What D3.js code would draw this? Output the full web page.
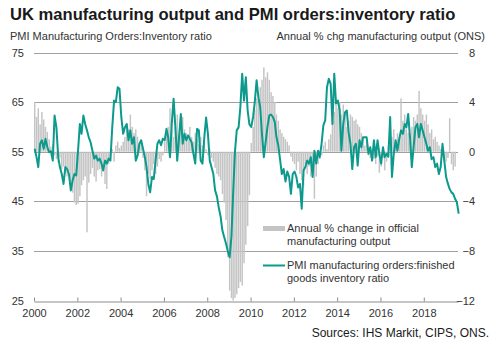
<!DOCTYPE html>
<html><head><meta charset="utf-8">
<script src="https://cdn.jsdelivr.net/npm/d3@7"></script>
<style>
body{margin:0;background:#fff;}
svg{display:block;font-family:"Liberation Sans",Arial,sans-serif;}
</style>
</head><body>
<svg id="c" width="498" height="349"></svg>
<script>
// ---- DATA (monthly from Jan 2000) ----
const startYear = 2000;
const pmiRatio = [
 55.6,53.9,51.9,56.6,57.3,55.6,57.6,55.9,54.9,55.1,53.2,62.3,
 59.9,53.9,51.9,50.5,48.5,51.9,51.5,50.5,47.2,49.2,50.5,50.2,
 55.2,60.6,58.6,62.3,60.6,59.3,57.9,56.9,55.2,53.6,54.2,53.2,
 53.6,52.6,51.2,53.2,52.6,53.6,53.2,59.9,65.3,65.0,68.0,67.7,
 62.0,58.6,59.9,60.6,57.3,59.3,56.6,57.9,53.2,54.2,56.6,57.3,
 55.6,53.9,51.9,48.5,46.8,49.9,49.5,53.2,56.6,57.3,56.3,57.6,
 57.3,59.6,57.9,53.9,60.6,65.7,59.9,53.2,57.9,62.6,56.6,58.6,
 57.3,58.3,57.6,56.9,54.6,52.6,59.6,59.3,53.2,52.6,57.9,61.9,
 58.6,53.2,51.9,50.5,47.2,46.0,43.8,42.0,39.1,37.8,36.5,35.0,
 33.7,38.0,46.5,55.0,59.3,59.9,64.0,70.7,65.3,70.0,63.3,60.5,
 60.0,62.0,65.0,69.4,66.0,64.0,58.5,53.9,57.0,60.0,62.3,62.5,
 62.0,61.0,58.0,56.3,53.5,50.5,51.5,49.0,51.0,50.0,46.5,50.5,
 51.0,49.9,47.8,48.5,43.5,51.2,51.9,53.2,52.6,53.9,49.9,55.2,
 52.6,55.2,53.9,56.6,60.3,61.3,68.0,69.7,68.7,60.6,70.7,64.7,
 65.3,63.3,55.2,60.5,62.9,63.3,58.9,56.6,51.5,55.9,56.6,52.2,
 57.3,55.9,57.9,57.9,57.9,54.6,55.9,53.2,57.3,53.9,57.3,54.6,
 52.6,55.9,53.9,54.6,54.0,62.0,49.9,54.6,57.3,55.2,57.6,59.3,
 58.6,60.6,59.9,62.6,58.0,51.9,55.9,59.9,60.6,57.9,60.6,59.3,
 57.9,56.6,55.2,55.9,53.5,53.9,51.9,52.6,50.5,51.9,56.6,53.2,
 49.9,48.5,47.5,46.8,46.5,45.5,44.8,42.5
];
const mfgOutput = [
 4.0,2.8,3.5,2.2,3.2,2.6,2.0,1.6,1.0,0.4,0.6,-0.3,
 -0.6,-0.9,-0.5,-1.4,-1.2,-1.8,-2.0,-1.6,-2.4,-3.3,-4.1,-4.3,
 -4.2,-3.6,-2.7,-2.3,-2.0,-6.5,-2.5,-1.8,-1.3,-2.0,-2.4,-1.5,
 -1.4,-2.0,-1.2,-2.6,-3.0,-1.0,-0.5,0.2,-0.8,0.5,0.8,0.3,
 0.5,0.8,1.2,2.2,1.8,3.0,2.0,1.5,1.8,1.2,0.6,1.0,
 -0.5,-1.5,-3.6,-1.8,-2.2,-1.5,-1.0,-1.8,-1.2,-0.6,-0.8,-0.3,
 0.8,1.5,2.0,3.5,1.8,1.2,2.0,3.0,1.5,2.2,2.8,1.8,
 1.5,1.0,2.0,1.2,0.8,1.5,1.0,0.6,1.2,0.5,0.8,0.2,
 -0.3,0.2,-0.5,-0.8,-1.3,-1.8,-2.0,-2.3,-3.4,-4.1,-5.5,-8.5,
 -11.2,-11.8,-12.0,-11.8,-11.5,-11.0,-10.5,-10.8,-9.0,-7.5,-6.0,-3.5,
 0.7,2.0,3.4,4.3,4.7,5.2,5.8,6.8,6.0,6.4,5.8,4.8,
 4.5,4.0,3.0,2.5,1.8,1.5,1.2,1.0,0.8,0.5,-0.4,-0.8,
 -1.0,-1.5,-0.8,-1.8,-2.3,-2.8,-1.0,-1.8,-1.2,-2.0,-1.5,-3.8,
 -2.0,-1.0,-0.6,-0.3,0.5,0.8,0.2,1.0,1.4,2.5,3.2,3.8,
 3.5,4.0,3.0,3.8,3.2,2.0,2.5,3.0,2.8,2.5,2.6,2.2,
 2.0,1.5,1.0,0.5,0.8,-0.3,-0.5,0.2,-0.6,-1.0,-0.4,-1.7,
 -1.2,-0.5,-1.5,-0.8,0.5,0.8,1.2,1.8,0.6,1.5,1.0,4.3,
 2.5,3.0,1.8,1.5,0.8,2.0,2.8,2.5,3.0,4.9,3.5,3.0,
 2.5,3.0,2.2,1.5,1.8,1.0,1.2,0.8,0.5,0.2,-0.4,-0.8,
 -0.8,-0.5,2.7,-1.0,-1.5,-1.2
];
const yearTicks = [2000,2002,2004,2006,2008,2010,2012,2014,2016,2018];
const leftTicks = [25,35,45,55,65,75];
const rightTicks = [-12,-8,-4,0,4,8];

// ---- CHART ----
const svg = d3.select("#c");
const monthDate = i => new Date(startYear, i, 1);
const x = d3.scaleTime().domain([new Date(2000,0,1), new Date(2019,7,1)]).range([34,458]);
const yL = d3.scaleLinear().domain([25,75]).range([300.5,52.5]);
const yR = d3.scaleLinear().domain([-12,8]).range([300.5,52.5]);

const txt = "#333";
// title
svg.append("text").attr("x",10).attr("y",20).attr("font-size",16.6).attr("font-weight","bold")
  .attr("fill","#1a1a1a").text("UK manufacturing output and PMI orders:inventory ratio");
svg.append("text").attr("x",10).attr("y",40).attr("font-size",11).attr("fill",txt)
  .text("PMI Manufacturing Orders:Inventory ratio");
svg.append("text").attr("x",485).attr("y",40).attr("font-size",11).attr("fill",txt)
  .attr("text-anchor","end").text("Annual % chg manufacturing output (ONS)");

// gridlines
svg.append("g").selectAll("line").data(leftTicks.filter(d=>d!==25)).join("line")
  .attr("x1",34).attr("x2",458)
  .attr("y1",d=>Math.round(yL(d))+0.5).attr("y2",d=>Math.round(yL(d))+0.5)
  .attr("stroke","#a0a0a0").attr("stroke-width",1);

// bars
const bw = 1.45;
svg.append("g").selectAll("rect").data(mfgOutput).join("rect")
  .attr("x",(d,i)=>x(monthDate(i)))
  .attr("width",bw)
  .attr("y",d=>Math.min(yR(d),yR(0)))
  .attr("height",d=>Math.abs(yR(d)-yR(0)))
  .attr("fill","#c4c4c4");

// line
const line = d3.line().x((d,i)=>x(monthDate(i))+0.7).y(d=>yL(d)).curve(d3.curveLinear);
svg.append("path").datum(pmiRatio).attr("d",line).attr("fill","none")
  .attr("stroke","#0b9a8c").attr("stroke-width",2).attr("stroke-linejoin","round");

// bottom axis
const xAxis = d3.axisBottom(x).tickValues(yearTicks.map(y=>new Date(y,0,1)))
  .tickFormat(d3.timeFormat("%Y")).tickSizeInner(-4).tickSizeOuter(0).tickPadding(8);
const gx = svg.append("g").attr("transform","translate(0,"+(Math.round(yL(25))+0.5)+")").call(xAxis);
gx.select(".domain").attr("stroke","#8c8c8c");
gx.selectAll(".tick line").attr("stroke","#8c8c8c");
gx.selectAll("text").attr("font-size",11).attr("fill",txt).attr("font-family","Liberation Sans, Arial, sans-serif");

// left axis labels
const yAxisL = d3.axisLeft(yL).tickValues(leftTicks).tickSize(0).tickPadding(10);
const gl = svg.append("g").attr("transform","translate(34,0)").call(yAxisL);
gl.select(".domain").remove();
gl.selectAll("text").attr("font-size",11).attr("fill",txt).attr("font-family","Liberation Sans, Arial, sans-serif");

// right axis labels
const yAxisR = d3.axisRight(yR).tickValues(rightTicks).tickSize(0).tickPadding(0);
const gr = svg.append("g").attr("transform","translate(475,0)").call(yAxisR);
gr.select(".domain").remove();
gr.selectAll("text").attr("font-size",11).attr("fill",txt).attr("text-anchor","end")
  .attr("font-family","Liberation Sans, Arial, sans-serif");

// legend
const lg = svg.append("g");
lg.append("rect").attr("x",263).attr("y",226).attr("width",22).attr("height",5).attr("fill","#c4c4c4");
lg.append("text").attr("x",287).attr("y",232).attr("font-size",11).attr("fill",txt).text("Annual % change in official");
lg.append("text").attr("x",287).attr("y",245).attr("font-size",11).attr("fill",txt).text("manufacturing output");
lg.append("line").attr("x1",263).attr("x2",285).attr("y1",265.5).attr("y2",265.5)
  .attr("stroke","#0b9a8c").attr("stroke-width",2);
lg.append("text").attr("x",287).attr("y",269).attr("font-size",11).attr("fill",txt).text("PMI manufacturing orders:finished");
lg.append("text").attr("x",287).attr("y",282).attr("font-size",11).attr("fill",txt).text("goods inventory ratio");

// source
svg.append("text").attr("x",489).attr("y",337).attr("font-size",12).attr("fill","#1a1a1a")
  .attr("text-anchor","end").text("Sources: IHS Markit, CIPS, ONS.");
</script>
</body></html>
